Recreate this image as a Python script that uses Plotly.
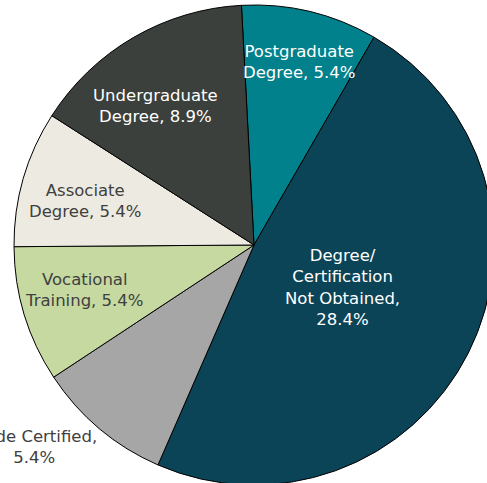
import math
import plotly.graph_objects as go

categories = ["Postgraduate Degree", "Degree/Certification Not Obtained", "Trade Certified",
              "Vocational Training", "Associate Degree", "Undergraduate Degree"]
values = [5.4, 28.4, 5.4, 5.4, 5.4, 8.9]
label_lines = ["Postgraduate<br>Degree", "Degree/<br>Certification<br>Not Obtained",
               "Trade Certified", "Vocational<br>Training", "Associate<br>Degree",
               "Undergraduate<br>Degree"]
colors = ["#00818C", "#0C4457", "#A6A6A6", "#C5D9A0", "#EDEBE1", "#3B403C"]
text_colors = ["#FFFFFF", "#FFFFFF", "#404040", "#404040", "#404040", "#FFFFFF"]
# label placement style: radial fraction of the radius, and angle nudge (deg)
label_frac = [0.785, 0.408, 1.247, 0.729, 0.728, 0.709]
label_nudge = [0.3, -0.8, 7.4, 2.0, -1.5, -5.0]

FONT = "DejaVu Sans, Century Gothic, sans-serif"
FSIZE = 16.5
W, H = 501, 490
ROT = -3
CX, CY, R = 254, 245, 240  # pie centre / radius in px (domain below)

texts = []
for lab, v in zip(label_lines, values):
    sep = ",<br>" if "Not Obtained" in lab or lab == "Trade Certified" else ", "
    texts.append(f"{lab}{sep}{v}%")

fig = go.Figure(go.Pie(
    labels=categories,
    values=values,
    textinfo="none",
    sort=False,
    direction="clockwise",
    rotation=ROT,
    marker=dict(colors=colors, line=dict(color="#000000", width=1)),
    domain=dict(x=[(CX - R) / W, (CX + R) / W], y=[(H - CY - R) / H, (H - CY + R) / H]),
    showlegend=False,
    hoverinfo="label+value",
))

total = sum(values)
start = ROT
for v, t, c, f, d in zip(values, texts, text_colors, label_frac, label_nudge):
    span = v / total * 360
    mid = math.radians(start + span / 2 + d)
    start += span
    px = CX + f * R * math.sin(mid)
    py = CY - f * R * math.cos(mid)
    fig.add_annotation(
        x=px / W, y=(H - py) / H, xref="paper", yref="paper",
        text=t, showarrow=False, xanchor="center", yanchor="middle",
        font=dict(color=c, size=FSIZE, family=FONT), align="center",
    )

fig.update_layout(
    width=W, height=H,
    margin=dict(l=0, r=0, t=0, b=0),
    paper_bgcolor="white",
    plot_bgcolor="white",
)
fig.write_html("out.html", config={"displayModeBar": False},
               post_script="document.body.style.margin='0px';")
